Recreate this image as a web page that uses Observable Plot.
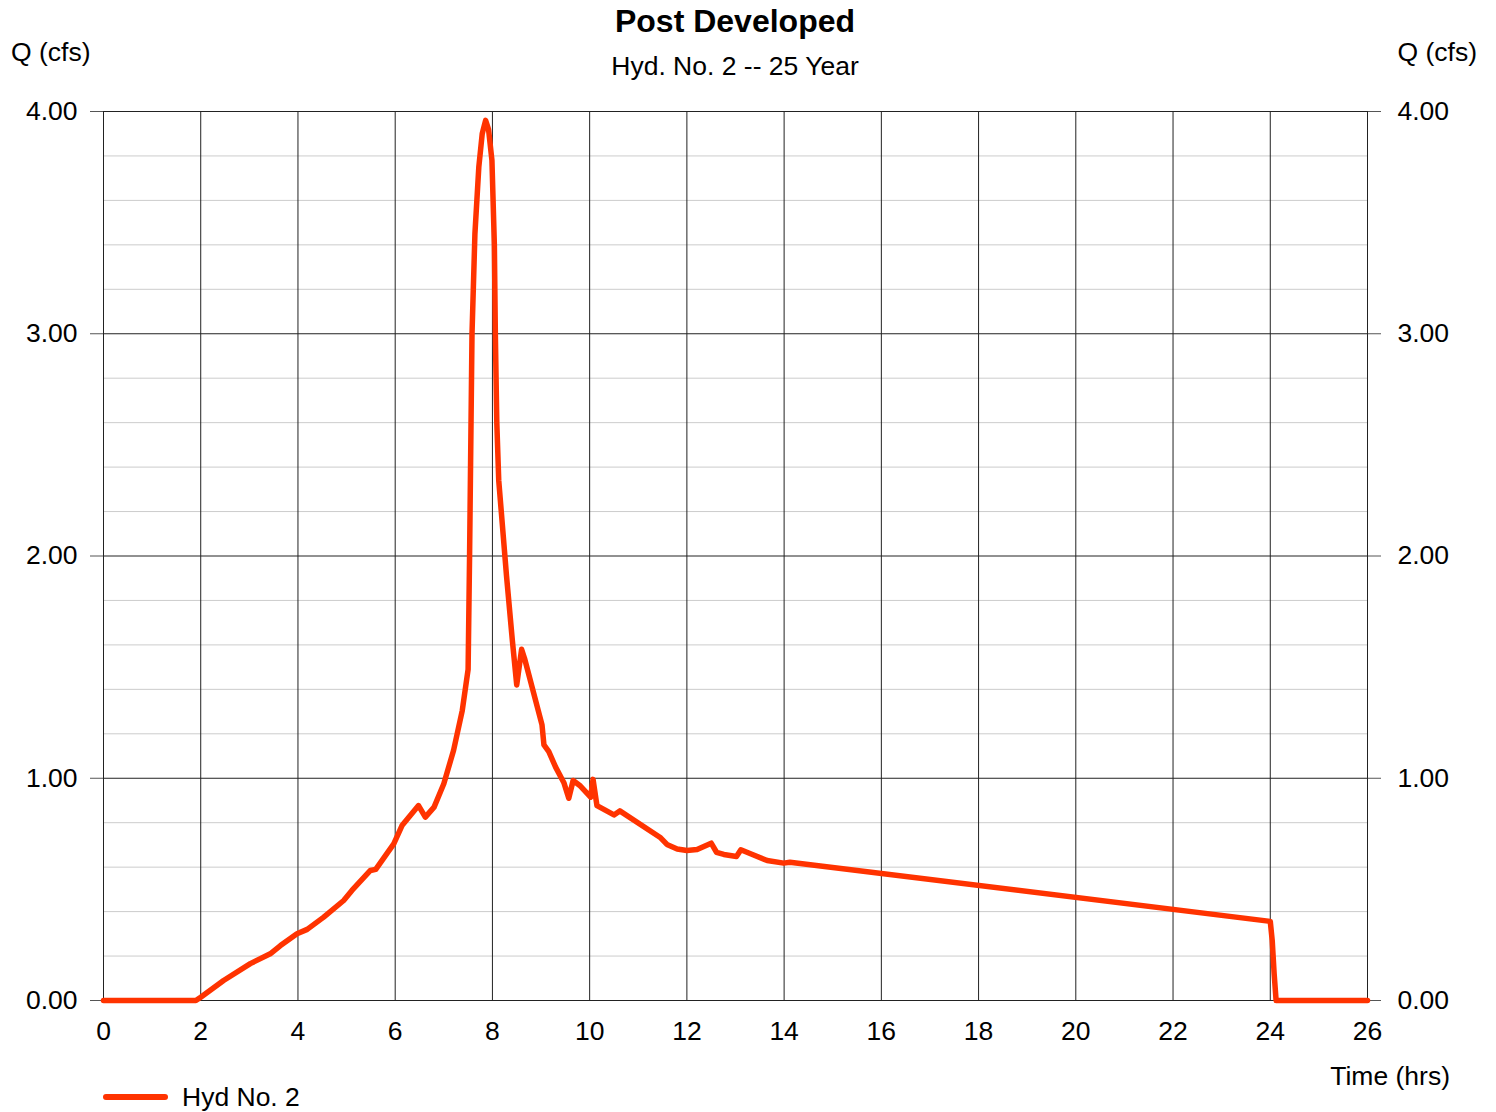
<!DOCTYPE html>
<html>
<head>
<meta charset="utf-8">
<script src="https://cdn.jsdelivr.net/npm/d3@7"></script>
<script src="https://cdn.jsdelivr.net/npm/@observablehq/plot@0.6"></script>
<style>
  body { margin: 0; background: #fff; font-family: "Liberation Sans", Arial, sans-serif; color: #000; }
  #wrap { position: relative; width: 1496px; height: 1112px; overflow: hidden; }
  .abs { position: absolute; white-space: nowrap; }
  #title { left: 0; width: 1470px; text-align: center; top: 4px; font-size: 32px; line-height: 34px; font-weight: bold; }
  #subtitle { left: 0; width: 1470px; text-align: center; top: 51px; font-size: 26.5px; line-height: 30px; }
  #qleft { left: 11px; top: 37px; font-size: 26.5px; line-height: 30px; }
  #qright { right: 19px; top: 37px; font-size: 26.5px; line-height: 30px; }
  #xlabel { right: 46px; top: 1061px; font-size: 26.5px; line-height: 30px; }
  #legend { left: 103px; top: 1082px; font-size: 26.5px; line-height: 30px; display: flex; align-items: center; }
  #legend .sw { width: 65px; height: 6px; border-radius: 3px; background: #ff3300; margin-right: 14px; }
  #chart { position: absolute; left: 0; top: 90px; }
</style>
</head>
<body>
<div id="wrap">
  <div id="title" class="abs">Post Developed</div>
  <div id="subtitle" class="abs">Hyd. No. 2 -- 25 Year</div>
  <div id="qleft" class="abs">Q (cfs)</div>
  <div id="qright" class="abs">Q (cfs)</div>
  <div id="chart"></div>
  <div id="xlabel" class="abs">Time (hrs)</div>
  <div id="legend" class="abs"><span class="sw"></span><span>Hyd No. 2</span></div>
</div>
<script>
const seriesName = "Hyd No. 2";
const timeHrs = [
  0, 1.9, 2.0, 2.47, 3.02, 3.43, 3.64, 3.98, 4.19, 4.53, 4.94, 5.11, 5.49, 5.6, 5.97, 6.14,
  6.48, 6.62, 6.8, 7.0, 7.2, 7.38, 7.5, 7.53, 7.58, 7.64, 7.72, 7.79, 7.86, 7.92, 7.99,
  8.04, 8.06, 8.09, 8.13, 8.29, 8.41, 8.5, 8.6, 8.66, 9.02, 9.06, 9.16, 9.3, 9.47, 9.57,
  9.66, 9.81, 10.02, 10.07, 10.15, 10.5, 10.62, 11.46, 11.59, 11.8, 12.0, 12.21, 12.5,
  12.61, 12.76, 13.02, 13.11, 13.31, 13.65, 13.99, 14.12, 24.0, 24.04, 24.08, 24.12, 26
];
const flowCfs = [
  0, 0, 0.015, 0.09, 0.166, 0.21, 0.247, 0.30, 0.32, 0.375, 0.45, 0.495, 0.585, 0.59, 0.705, 0.787,
  0.877, 0.825, 0.87, 0.975, 1.125, 1.305, 1.49, 2.0, 3.0, 3.45, 3.75, 3.9, 3.96, 3.92, 3.78,
  3.4, 3.0, 2.6, 2.34, 1.91, 1.62, 1.42, 1.58, 1.54, 1.24, 1.15, 1.12, 1.05, 0.98, 0.91,
  0.99, 0.965, 0.915, 0.995, 0.877, 0.835, 0.853, 0.732, 0.702, 0.682, 0.675, 0.679, 0.708,
  0.667, 0.657, 0.648, 0.678, 0.66, 0.63, 0.618, 0.622, 0.356, 0.27, 0.12, 0, 0
];
const xTicks = [0, 2, 4, 6, 8, 10, 12, 14, 16, 18, 20, 22, 24, 26];
const yMajor = [0, 1, 2, 3, 4];
const yMinor = [0.2, 0.4, 0.6, 0.8, 1.2, 1.4, 1.6, 1.8, 2.2, 2.4, 2.6, 2.8, 3.2, 3.4, 3.6, 3.8];

const data = timeHrs.map((t, i) => ({t, q: flowCfs[i], s: seriesName}));
const fmt = d3.format(".2f");

const chart = Plot.plot({
  width: 1496,
  height: 990,
  marginLeft: 103,
  marginRight: 129,
  marginTop: 21,
  marginBottom: 80,
  style: { fontFamily: "'Liberation Sans', Arial, sans-serif", fontSize: "26.5px", color: "#000", background: "transparent", overflow: "visible" },
  x: { domain: [0, 26], ticks: xTicks },
  y: { domain: [0, 4], ticks: yMajor },
  marks: [
    Plot.ruleY(yMinor, { stroke: "#cccccc", strokeWidth: 1 }),
    Plot.ruleX(xTicks, { stroke: "#222", strokeWidth: 1 }),
    Plot.ruleY(yMajor, { stroke: "#222", strokeWidth: 1 }),
    Plot.axisX({ ticks: xTicks, tickSize: 0, tickPadding: 21, label: null, tickFormat: d => String(d), fontSize: 26.5 }),
    Plot.axisY({ anchor: "left", ticks: yMajor, tickSize: 13, tickPadding: 13, label: null, tickFormat: fmt, stroke: "#555", fontSize: 26.5 }),
    Plot.axisY({ anchor: "right", ticks: yMajor, tickSize: 13, tickPadding: 17, label: null, tickFormat: fmt, stroke: "#555", fontSize: 26.5 }),
    Plot.line(data, { x: "t", y: "q", stroke: "#ff3300", strokeWidth: 5.5, strokeLinejoin: "round", strokeLinecap: "round" })
  ]
});
document.getElementById("chart").appendChild(chart);
</script>
</body>
</html>
